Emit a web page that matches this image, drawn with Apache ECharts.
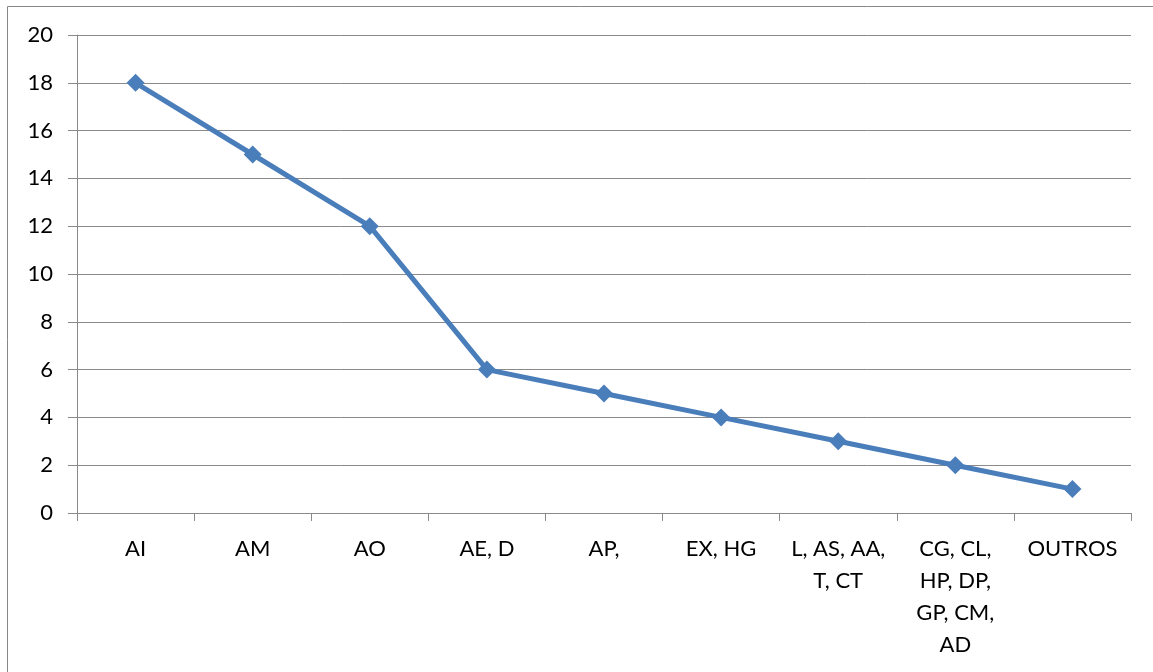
<!DOCTYPE html>
<html>
<head>
<meta charset="utf-8">
<script src="https://cdn.jsdelivr.net/npm/echarts@6/dist/echarts.min.js"></script>
<style>
html,body{margin:0;padding:0;background:#fff;}
#c{width:1153px;height:672px;}
</style>
</head>
<body>
<div id="c"></div>
<script>
const categories = ["AI", "AM", "AO", "AE, D", "AP,", "EX, HG", "L, AS, AA,\nT, CT", "CG, CL,\nHP, DP,\nGP, CM,\nAD", "OUTROS"];
const values = [18, 15, 12, 6, 5, 4, 3, 2, 1];
const yTicks = {min: 0, max: 20, interval: 2};

const chart = echarts.init(document.getElementById('c'), null, {renderer: 'canvas'});
const font = 'Lato, "Open Sans", sans-serif';
chart.setOption({
  animation: false,
  backgroundColor: '#fff',
  graphic: [{
    type: 'rect',
    shape: {x: 7.5, y: 6.5, width: 1300, height: 800},
    style: {fill: 'none', stroke: '#878787', lineWidth: 1}
  }],
  grid: {left: 77, right: 22, top: 35, bottom: 159, containLabel: false},
  xAxis: {
    type: 'category',
    data: categories,
    boundaryGap: true,
    axisLine: {lineStyle: {color: '#8a8a8a', width: 1}},
    axisTick: {show: true, length: 8, alignWithLabel: false, lineStyle: {color: '#8a8a8a'}},
    axisLabel: {color: '#000', fontFamily: font, fontSize: 22, lineHeight: 32, margin: 20, interval: 0}
  },
  yAxis: {
    type: 'value',
    min: yTicks.min, max: yTicks.max, interval: yTicks.interval,
    axisLine: {show: true, lineStyle: {color: '#8a8a8a', width: 1}},
    axisTick: {show: true, length: 9, lineStyle: {color: '#8a8a8a'}},
    splitLine: {show: true, lineStyle: {color: '#8a8a8a', width: 1}},
    axisLabel: {color: '#000', fontFamily: font, fontSize: 22, margin: 24}
  },
  series: [{
    type: 'line',
    data: values,
    symbol: 'diamond',
    symbolSize: 18,
    lineStyle: {color: '#4a7ebb', width: 5},
    itemStyle: {color: '#4a7ebb'}
  }]
});
</script>
</body>
</html>
